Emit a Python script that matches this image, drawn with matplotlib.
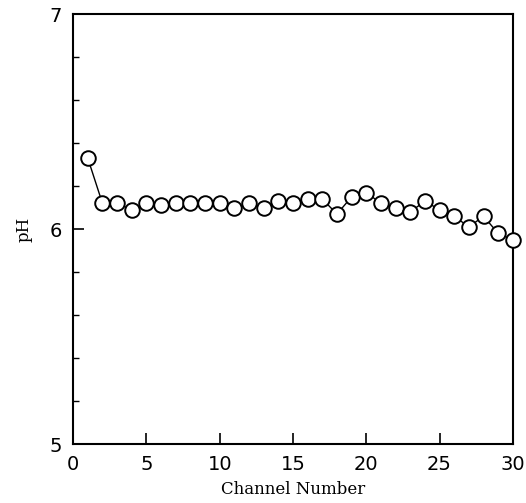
import matplotlib
matplotlib.use("Agg")
import matplotlib.pyplot as plt
from matplotlib.ticker import MultipleLocator

channels = list(range(1, 31))
ph = [6.33, 6.12, 6.12, 6.09, 6.12, 6.11, 6.12, 6.12, 6.12, 6.12,
      6.10, 6.12, 6.10, 6.13, 6.12, 6.14, 6.14, 6.07, 6.15, 6.17,
      6.12, 6.10, 6.08, 6.13, 6.09, 6.06, 6.01, 6.06, 5.98, 5.95]

fig = plt.figure(figsize=(5.26, 5.03), dpi=100)
ax = fig.add_axes([0.139, 0.117, 0.836, 0.855])
ax.plot(channels, ph, color="black", lw=1.0, marker="o", markersize=10.5,
        markerfacecolor="white", markeredgecolor="black", markeredgewidth=1.4,
        clip_on=False, zorder=3)
ax.set_xlim(0, 30)
ax.set_ylim(5, 7)
ax.xaxis.set_major_locator(MultipleLocator(5))
ax.yaxis.set_major_locator(MultipleLocator(1))
ax.yaxis.set_minor_locator(MultipleLocator(0.2))
ax.tick_params(axis="both", which="major", direction="in", length=8, width=1.2,
               labelsize=14, pad=8)
ax.tick_params(axis="y", which="minor", direction="in", length=4, width=1.0)
for s in ax.spines.values():
    s.set_linewidth(1.5)
ax.set_xlabel("Channel Number", family="DejaVu Serif", fontsize=12, labelpad=5)
ax.set_ylabel("pH", family="DejaVu Serif", fontsize=12, labelpad=12)
fig.savefig("out.png", dpi=100)
